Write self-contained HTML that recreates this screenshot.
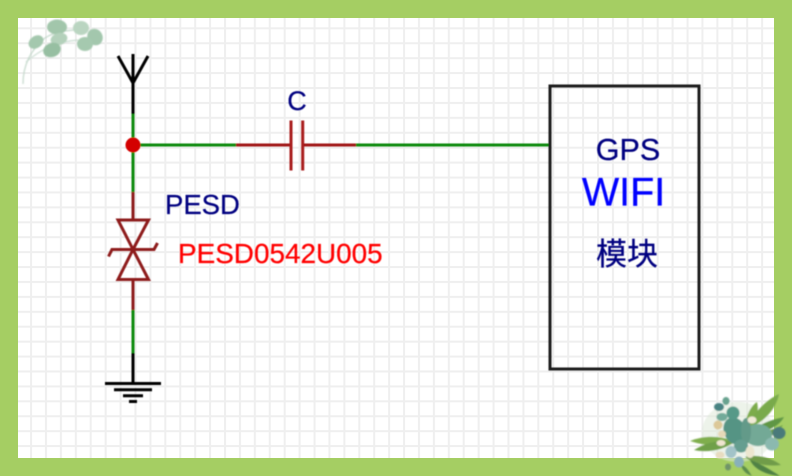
<!DOCTYPE html>
<html><head><meta charset="utf-8">
<style>
html,body{margin:0;padding:0;background:#a5ce63}
svg{display:block;position:absolute;left:0;top:0}
text{font-family:"Liberation Sans","Noto Sans CJK SC",sans-serif;stroke-width:.25px}
</style></head>
<body>
<svg width="792" height="476" viewBox="0 0 792 476" xmlns="http://www.w3.org/2000/svg">
<defs>
<pattern id="g" x="0.2" y="12.4" width="14.92" height="14.92" patternUnits="userSpaceOnUse">
<rect width="14.92" height="14.92" fill="#fff"/>
<rect x="0" y="0" width="2" height="14.92" fill="#efefef"/>
<rect x="0" y="0" width="14.92" height="2" fill="#efefef"/>
</pattern>
<filter id="b1" x="-20%" y="-20%" width="140%" height="140%"><feGaussianBlur stdDeviation="0.9"/></filter>
<filter id="b2" x="-20%" y="-20%" width="140%" height="140%"><feGaussianBlur stdDeviation="0.7"/></filter>
<filter id="b3" x="-5%" y="-5%" width="110%" height="110%"><feGaussianBlur stdDeviation="0.4"/></filter>
</defs>
<rect width="792" height="476" fill="#a5ce63"/>
<rect x="18" y="18" width="756" height="440" fill="url(#g)"/>

<!-- top-left leaves -->
<g filter="url(#b1)">
<path d="M23 84 C23 68 28 52 45 38 C55 31 70 30 88 29" fill="none" stroke="#c3d8ca" stroke-width="1.2"/>
<path d="M26 62 C40 50 55 42 78 40" fill="none" stroke="#c9dcd0" stroke-width="1.2"/>
<ellipse cx="57" cy="27" rx="10" ry="7.5" fill="#a2c6ab"/>
<ellipse cx="81" cy="28" rx="8" ry="7" fill="#bad5c1"/>
<ellipse cx="95" cy="37" rx="7.5" ry="8.5" fill="#a3c7ad" transform="rotate(-30 95 37)"/>
<ellipse cx="85" cy="44" rx="8" ry="7" fill="#a5c9af"/>
<ellipse cx="59" cy="39" rx="8.5" ry="6" fill="#b4d1bb" transform="rotate(-15 59 39)"/>
<ellipse cx="52" cy="50" rx="9" ry="7" fill="#97bfa2" transform="rotate(-20 52 50)"/>
<ellipse cx="36" cy="42" rx="8" ry="6" fill="#a4c8ae" transform="rotate(-35 36 42)"/>
</g>

<!-- bottom-right bouquet -->
<g filter="url(#b2)">
<ellipse cx="738" cy="432" rx="36" ry="30" fill="#dfe9d8" opacity=".55"/>
<path d="M690 441 C705 435 720 436 734 441 C720 447 705 446 690 441Z" fill="#7fae4e"/>
<path d="M694 450 C708 441 722 440 736 441 C724 450 708 453 694 450Z" fill="#6fa04a"/>
<path d="M744 430 C746 414 752 405 757 402 C760 414 754 426 744 430Z" fill="#7dac4b"/>
<path d="M747 428 C752 414 766 400 779 394 C776 410 762 424 747 428Z" fill="#79aa4c"/>
<path d="M752 432 C762 422 772 420 784 417 C778 428 764 433 752 432Z" fill="#5f9645"/>
<path d="M750 439 C762 432 772 430 783 425 C776 436 762 441 750 439Z" fill="#6c9f47"/>
<path d="M745 457 C755 454 770 457 781 465 C766 467 752 463 745 457Z" fill="#6f9c4a"/>
<path d="M750 460 C758 462 772 471 780 476 C766 475 754 469 750 460Z" fill="#4f8244"/>
<path d="M741 465 C742 470 746 474 752 476 C748 470 746 466 741 465Z" fill="#5c8c4c"/>
<ellipse cx="735" cy="431" rx="11" ry="14" fill="#559484" transform="rotate(-25 735 431)"/>
<ellipse cx="758" cy="435" rx="14" ry="11" fill="#73a996"/>
<ellipse cx="746" cy="431" rx="5" ry="13" fill="#639a89"/>
<ellipse cx="733" cy="413" rx="6.5" ry="6.5" fill="#579988"/>
<ellipse cx="722" cy="417" rx="5.5" ry="4" fill="#72aa99"/>
<ellipse cx="719" cy="407" rx="5" ry="4" fill="#4a8383"/>
<ellipse cx="726" cy="401" rx="3.5" ry="4" fill="#68a28f"/>
<ellipse cx="779" cy="433" rx="6.5" ry="6" fill="#4a7a7a"/>
<ellipse cx="772" cy="444" rx="7" ry="6.5" fill="#8bb9af"/>
<ellipse cx="741" cy="446" rx="7" ry="6.5" fill="#659e90"/>
<ellipse cx="731" cy="452" rx="5.5" ry="6" fill="#a2c3c8"/>
<ellipse cx="739" cy="462" rx="5" ry="5.5" fill="#88b0ba"/>
<ellipse cx="728" cy="467" rx="3" ry="3.5" fill="#6f9468"/>
<ellipse cx="750" cy="452" rx="4.5" ry="6" fill="#ece6cf"/>
<ellipse cx="718" cy="425" rx="4.5" ry="4.5" fill="#dcc898"/>
<ellipse cx="722" cy="434" rx="4" ry="3.5" fill="#e6d8b8"/>
<ellipse cx="752" cy="420" rx="4.5" ry="3.5" fill="#f1ead6"/>
<ellipse cx="720" cy="455" rx="4.5" ry="3.5" fill="#e8dcc0"/>
<ellipse cx="721" cy="443" rx="4.5" ry="3" fill="#efe5cf"/>
</g>

<g filter="url(#b3)">
<g fill="none" stroke-linecap="butt">
<!-- antenna -->
<path d="M133 54V114" stroke="#000" stroke-width="3"/>
<path d="M118 56L133 83L148 56" stroke="#000" stroke-width="3"/>
<!-- green wires -->
<path d="M133 114V192" stroke="#0a8a0a" stroke-width="3"/>
<path d="M133 145H236" stroke="#0a8a0a" stroke-width="3"/>
<path d="M356 145H550" stroke="#0a8a0a" stroke-width="3"/>
<path d="M133 310V353" stroke="#0a8a0a" stroke-width="3"/>
<!-- capacitor -->
<path d="M236 145H290M304 145H356" stroke="#a01818" stroke-width="3"/>
<path d="M291 120.5V170.5M302.7 120.5V170.5" stroke="#a81c1c" stroke-width="3"/>
<!-- TVS -->
<path d="M133 192V220M133 279V310" stroke="#8e1a1a" stroke-width="3"/>
<path d="M118 220H148.5L133 249.5ZM118 279.5H148.5L133 249.5Z" stroke="#8e1a1a" stroke-width="3" stroke-linejoin="miter"/>
<path d="M108.5 256.5L112 249.5H154L157.5 243" stroke="#8e1a1a" stroke-width="3"/>
<!-- ground -->
<path d="M133 353V383" stroke="#000" stroke-width="3"/>
<path d="M105 383.5H161" stroke="#000" stroke-width="3"/>
<path d="M114 389.7H152" stroke="#000" stroke-width="3"/>
<path d="M123 395.8H143" stroke="#000" stroke-width="3"/>
<path d="M129 401.5H137" stroke="#000" stroke-width="3"/>
<!-- box -->
<rect x="550" y="86" width="149" height="283" stroke="#1a1a1a" stroke-width="3"/>
</g>
<circle cx="133" cy="145" r="7.5" fill="#d40000"/>

<text x="297" y="110" font-size="27" fill="#000080" stroke="#000080" text-anchor="middle">C</text>
<text x="165" y="214" font-size="27.5" fill="#000080" stroke="#000080">PESD</text>
<text x="178" y="263" font-size="27.9" fill="#ff0000" stroke="#ff0000">PESD0542U005</text>
<text x="628" y="160" font-size="30.5" fill="#000080" stroke="#000080" text-anchor="middle">GPS</text>
<text x="623.5" y="205.5" font-size="39.5" fill="#0000ff" stroke="#0000ff" text-anchor="middle">WIFI</text>
<text x="627" y="265" font-size="31" fill="#000080" stroke="#000080" text-anchor="middle">模块</text>
</g>
</svg>
</body></html>
